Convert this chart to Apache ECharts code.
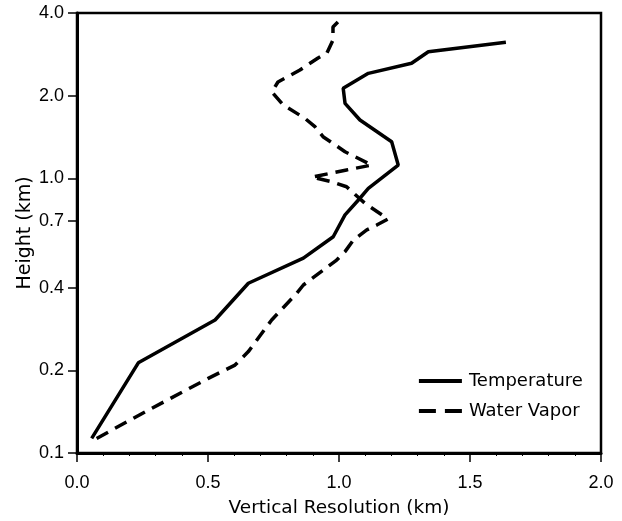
<!DOCTYPE html>
<html>
<head>
<meta charset="utf-8">
<script src="https://cdn.jsdelivr.net/npm/echarts@6/dist/echarts.min.js"></script>
<style>
html, body { margin: 0; padding: 0; background: #fff; }
#main { width: 622px; height: 521px; }
</style>
</head>
<body>
<div id="main"></div>
<script>
var chartDom = document.getElementById('main');
var myChart = echarts.init(chartDom);
var option;

// vertical resolution (km) vs height (km)
var tempRes = [0.056, 0.234, 0.527, 0.654, 0.864, 0.978, 1.023, 1.074, 1.112, 1.226,
    1.201, 1.080, 1.023, 1.016, 1.112, 1.277, 1.341, 1.637];
var tempHeight = [0.113, 0.213, 0.305, 0.415, 0.512, 0.613, 0.736, 0.834, 0.920, 1.118,
    1.359, 1.631, 1.876, 2.128, 2.412, 2.624, 2.891, 3.129];

var vaporRes = [0.075, 0.247, 0.501, 0.603, 0.654, 0.743, 0.839, 0.864, 0.991, 1.023,
    1.055, 1.106, 1.144, 1.187, 1.099, 1.029, 0.972, 0.897, 1.029, 1.125,
    1.023, 0.939, 0.908, 0.870, 0.787, 0.744, 0.767, 0.851, 0.920, 0.954,
    0.977, 0.977, 1.015];
var vaporHeight = [0.113, 0.139, 0.187, 0.209, 0.234, 0.305, 0.382, 0.409, 0.504, 0.541,
    0.596, 0.649, 0.676, 0.711, 0.811, 0.932, 0.972, 1.011, 1.073, 1.118,
    1.250, 1.418, 1.542, 1.654, 1.850, 2.063, 2.243, 2.480, 2.744, 2.861,
    3.189, 3.556, 3.868];

var heightTicks = [0.1, 0.2, 0.4, 0.7, 1.0, 2.0, 4.0];

function toLog(xs, hs) {
    return xs.map(function (x, i) { return [x, Math.log10(hs[i])]; });
}
var logTicks = heightTicks.map(function (h) { return Math.log10(h); });

var tickFont = 'Liberation Sans';
var nameFont = 'DejaVu Sans';

option = {
    animation: false,
    backgroundColor: '#fff',
    grid: {
        left: 77,
        right: 21,
        top: 13,
        bottom: 68,
        outerBoundsMode: 'none',
        show: true,
        borderColor: '#000',
        borderWidth: 2.5
    },
    legend: {
        orient: 'vertical',
        left: 412,
        top: 367,
        itemWidth: 43,
        itemHeight: 16,
        itemGap: 12,
        itemStyle: { opacity: 0 },
        lineStyle: { width: 3.8 },
        textStyle: { fontFamily: nameFont, fontSize: 18, color: '#000', padding: [0, 0, 0, 2] },
        data: [
            { name: 'Temperature', lineStyle: { width: 3.8, type: 'solid' } },
            { name: 'Water Vapor', lineStyle: { width: 3.8, type: [17, 9] } }
        ]
    },
    xAxis: {
        type: 'value',
        min: 0,
        max: 2,
        interval: 0.5,
        name: 'Vertical Resolution (km)',
        nameLocation: 'middle',
        nameGap: 46,
        nameTextStyle: { fontFamily: nameFont, fontSize: 18.5, color: '#000' },
        axisLine: { onZero: false, lineStyle: { color: '#000', width: 3 } },
        axisTick: { length: 9, lineStyle: { color: '#000', width: 1.5 } },
        minorTick: { show: true, splitNumber: 5, length: 3, lineStyle: { color: '#000', width: 1 } },
        axisLabel: {
            margin: 21,
            fontFamily: tickFont,
            fontSize: 18,
            color: '#000',
            formatter: function (v) { return v.toFixed(1); }
        },
        splitLine: { show: false }
    },
    yAxis: {
        type: 'value',
        min: Math.log10(0.1),
        max: Math.log10(4),
        name: 'Height (km)',
        nameLocation: 'middle',
        nameRotate: 90,
        nameGap: 42,
        nameMoveOverlap: false,
        nameTextStyle: { fontFamily: nameFont, fontSize: 19, color: '#000' },
        axisLine: { onZero: false, lineStyle: { color: '#000', width: 3 } },
        axisTick: { length: 9, customValues: logTicks, lineStyle: { color: '#000', width: 1.5 } },
        axisLabel: {
            margin: 13,
            customValues: logTicks,
            fontFamily: tickFont,
            fontSize: 18,
            color: '#000',
            formatter: function (v) { return Math.pow(10, v).toFixed(1); }
        },
        splitLine: { show: false }
    },
    series: [{
        name: 'Temperature',
        type: 'line',
        data: toLog(tempRes, tempHeight),
        showSymbol: false,
        symbol: 'none',
        color: '#000',
        lineStyle: { color: '#000', width: 3.5 }
    }, {
        name: 'Water Vapor',
        type: 'line',
        data: toLog(vaporRes, vaporHeight),
        showSymbol: false,
        symbol: 'none',
        color: '#000',
        lineStyle: { color: '#000', width: 3.5, type: [13, 8] }
    }]
};

option && myChart.setOption(option);
</script>
</body>
</html>
